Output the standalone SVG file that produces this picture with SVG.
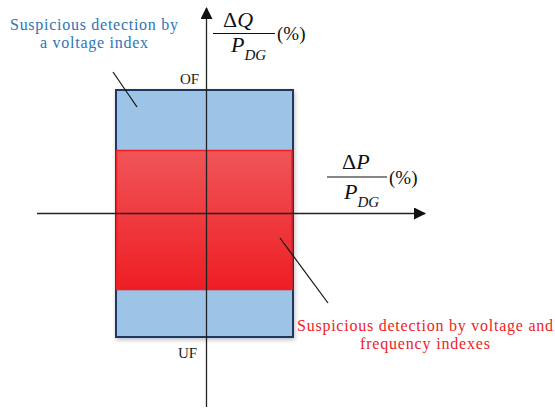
<svg xmlns="http://www.w3.org/2000/svg" width="555" height="409" viewBox="0 0 555 409">
<style>
.blue{fill:#2e75b6;font-size:16px;}
.red{fill:#ee1c25;font-size:16px;}
.lbl{fill:#222;font-size:15px;}
.ax{stroke:#222;stroke-width:1.3;fill:none;}
.lead{stroke:#111;stroke-width:1.2;}
.math{fill:#111;font-size:22px;}
.sub{fill:#111;font-size:15px;}
.pct{fill:#111;font-size:19px;}
</style>
<defs>
<linearGradient id="rg" x1="0" y1="0" x2="0" y2="1">
<stop offset="0" stop-color="#f05558"/>
<stop offset="1" stop-color="#ee1e24"/>
</linearGradient>
<marker id="ah" viewBox="0 0 12 12" refX="11" refY="6" markerWidth="12" markerHeight="12" markerUnits="userSpaceOnUse" orient="auto">
<path d="M0,0 L12,6 L0,12 Z" fill="#111"/>
</marker>
<filter id="sh" x="-10%" y="-10%" width="120%" height="120%">
<feGaussianBlur in="SourceAlpha" stdDeviation="2"/>
<feOffset dx="1" dy="2"/>
<feComponentTransfer><feFuncA type="linear" slope="0.25"/></feComponentTransfer>
<feMerge><feMergeNode/><feMergeNode in="SourceGraphic"/></feMerge>
</filter>
</defs>
<g id="voltage-region">
<rect x="116" y="90" width="177" height="247" fill="#9dc3e6" stroke="#1f3864" stroke-width="2" filter="url(#sh)"/>
</g>
<g id="frequency-region">
<rect x="116.5" y="150.5" width="175.5" height="139" fill="url(#rg)" stroke="#ee1e24" stroke-width="1.5"/>
</g>
<g id="connectors">
<line class="ax" x1="206.5" y1="407" x2="206.5" y2="8" marker-end="url(#ah)"/>
<line class="ax" x1="37" y1="213.5" x2="425" y2="213.5" marker-end="url(#ah)"/>
<line class="lead" x1="113" y1="72" x2="137" y2="107"/>
<line class="lead" x1="280" y1="238" x2="328" y2="303"/>
</g>
<g id="labels" font-family="Liberation Serif, Times New Roman, serif">
<text class="lbl" x="180" y="84">OF</text>
<text class="lbl" x="178" y="358">UF</text>
<text class="blue" x="94" y="30" text-anchor="middle" textLength="168" lengthAdjust="spacing">Suspicious detection by</text>
<text class="blue" x="94" y="48" text-anchor="middle" textLength="108" lengthAdjust="spacing">a voltage index</text>
<text class="red" x="425" y="331" text-anchor="middle" textLength="256" lengthAdjust="spacing">Suspicious detection by voltage and</text>
<text class="red" x="425" y="349" text-anchor="middle" textLength="130" lengthAdjust="spacing">frequency indexes</text>
</g>
<g id="q-axis-label" font-family="Liberation Serif, Times New Roman, serif">
<text class="math" x="223" y="27">Δ<tspan font-style="italic">Q</tspan></text>
<line x1="213" y1="33.5" x2="275" y2="33.5" stroke="#111" stroke-width="1.2"/>
<text class="math" x="231" y="52" font-style="italic">P<tspan class="sub" dy="8" font-style="italic">DG</tspan></text>
<text class="pct" x="277" y="40">(%)</text>
</g>
<g id="p-axis-label" font-family="Liberation Serif, Times New Roman, serif">
<text class="math" x="342" y="169">Δ<tspan font-style="italic">P</tspan></text>
<line x1="327" y1="177" x2="387" y2="177" stroke="#111" stroke-width="1.2"/>
<text class="math" x="344" y="199" font-style="italic">P<tspan class="sub" dy="8" font-style="italic">DG</tspan></text>
<text class="pct" x="389" y="184">(%)</text>
</g>
</svg>
